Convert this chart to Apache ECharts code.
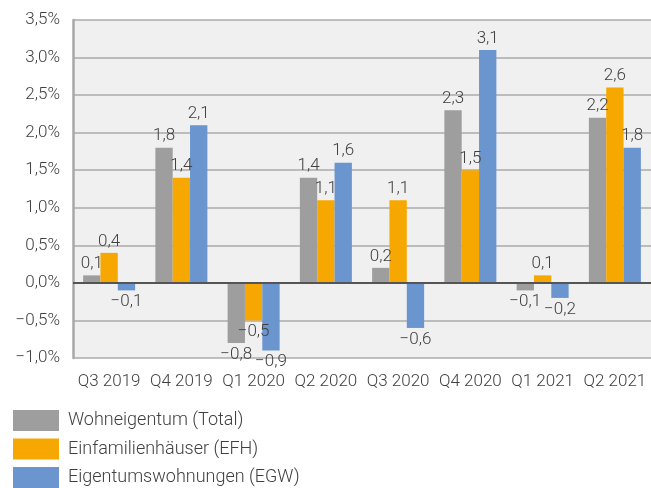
<!DOCTYPE html>
<html>
<head>
<meta charset="utf-8">
<script src="https://cdn.jsdelivr.net/npm/echarts@6/dist/echarts.min.js"></script>
<style>
  html, body { margin: 0; padding: 0; background: #fff; }
  #chart { width: 651px; height: 488px; }
</style>
</head>
<body>
<div id="chart"></div>
<script>
const quarters = ['Q3 2019', 'Q4 2019', 'Q1 2020', 'Q2 2020', 'Q3 2020', 'Q4 2020', 'Q1 2021', 'Q2 2021'];
const total = [0.1, 1.8, -0.8, 1.4, 0.2, 2.3, -0.1, 2.2];
const efh = [0.4, 1.4, -0.5, 1.1, 1.1, 1.5, 0.1, 2.6];
const egw = [-0.1, 2.1, -0.9, 1.6, -0.6, 3.1, -0.2, 1.8];
const seriesNames = ['Wohneigentum (Total)', 'Einfamilienhäuser (EFH)', 'Eigentumswohnungen (EGW)'];
const colors = ['#9e9e9e', '#f6a800', '#6a95cf'];

const font = 'Roboto, "DejaVu Sans", sans-serif';
const txt = '#404040';

// 1.5 -> "1,5", -0.8 -> "−0,8"
const fmt = v => v.toFixed(1).replace('.', ',').replace('-', '\u2212');

const toData = arr => arr.map(v => ({
  value: v,
  label: { position: v < 0 ? 'bottom' : 'top' }
}));

const chart = echarts.init(document.getElementById('chart'));

const series = [total, efh, egw].map((arr, i) => ({
  name: seriesNames[i],
  type: 'bar',
  data: toData(arr),
  barGap: '0%',
  barCategoryGap: '28%',
  itemStyle: { color: colors[i] },
  label: {
    show: true,
    distance: 3,
    color: txt,
    fontSize: 17,
    fontFamily: font,
    fontWeight: 300,
    formatter: p => fmt(p.value)
  }
}));

// dark zero line
series[0].markLine = {
  silent: true,
  symbol: 'none',
  label: { show: false },
  lineStyle: { color: '#555', width: 2, type: 'solid' },
  data: [{ yAxis: 0 }]
};

chart.setOption({
  animation: false,
  textStyle: { fontFamily: font },
  grid: {
    left: 73, top: 20, width: 583, height: 338,
    show: true, backgroundColor: '#f0f0f0', borderWidth: 0
  },
  legend: {
    orient: 'vertical',
    left: 13,
    top: 410,
    padding: 0,
    icon: 'rect',
    itemWidth: 46,
    itemHeight: 21,
    itemGap: 7.5,
    textStyle: { color: txt, fontSize: 18, fontFamily: font, fontWeight: 300, padding: [0, 0, 0, 4] },
    data: seriesNames
  },
  xAxis: {
    type: 'category',
    data: quarters,
    axisLine: { show: false, onZero: false },
    axisTick: { show: false },
    axisLabel: { interval: 0, color: txt, fontSize: 17, fontFamily: font, fontWeight: 300, margin: 15 }
  },
  yAxis: {
    type: 'value',
    min: -1,
    max: 3.5,
    interval: 0.5,
    axisLine: { show: true, lineStyle: { color: '#a8a8a8', width: 2.5 } },
    axisTick: { show: false },
    splitLine: { lineStyle: { color: '#ababab', width: 1.5 } },
    axisLabel: {
      color: txt, fontSize: 17, fontFamily: font, fontWeight: 300, margin: 13,
      formatter: v => fmt(v) + '%'
    }
  },
  series: series
});
</script>
</body>
</html>
